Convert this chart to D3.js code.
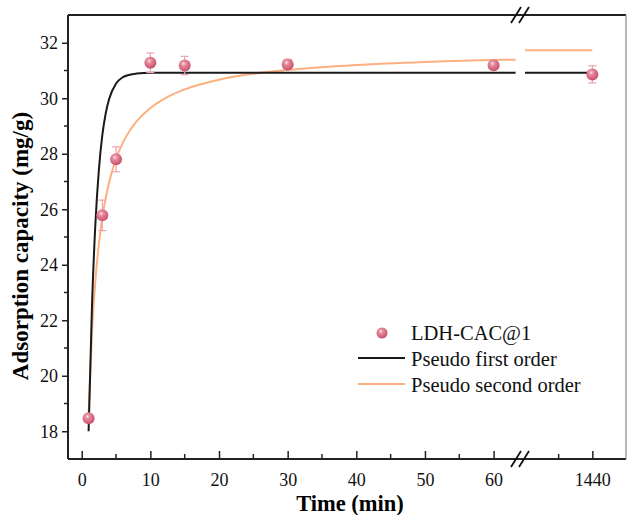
<!DOCTYPE html>
<html>
<head>
<meta charset="utf-8">
<script src="https://cdn.jsdelivr.net/npm/d3@7"></script>
<style>
  body { margin: 0; background: #fff; }
  svg text { font-family: "Liberation Serif", "Times New Roman", Times, "DejaVu Serif", serif; }
</style>
</head>
<body>
<div class="chart"></div>
<script>
// measured points
const times = [1, 3, 5, 10, 15, 30, 60, 1440];
const capacity = [18.47, 25.78, 27.8, 31.28, 31.18, 31.22, 31.19, 30.86];
const errors = [0.13, 0.55, 0.45, 0.35, 0.33, 0.18, 0.1, 0.31];

// fitted curves (left part, then right of the break)
const pfoTime = [1, 1.5, 2, 2.5, 3, 3.5, 4, 5, 6, 7, 8, 10, 20, 40, 63.2];
const pfoValue = [18.0, 22.57, 25.52, 27.43, 28.67, 29.46, 29.98, 30.53, 30.76, 30.85, 30.89, 30.92, 30.92, 30.92, 30.92];
const pfoTimeLate = [1400, 1440];
const pfoValueLate = [30.92, 30.92];

const psoTime = [1, 1.5, 2, 2.5, 3, 4, 5, 6, 7, 8, 10, 12, 15, 20, 25, 30, 40, 50, 60, 63.2];
const psoValue = [18.6, 21.58, 23.46, 24.75, 25.7, 26.98, 27.82, 28.4, 28.84, 29.17, 29.65, 29.98, 30.32, 30.67, 30.88, 31.02, 31.2, 31.31, 31.38, 31.39];
const psoTimeLate = [1400, 1440];
const psoValueLate = [31.73, 31.73];

const xTicks = [0, 10, 20, 30, 40, 50, 60];
const xMinor = [5, 15, 25, 35, 45, 55];
const xTicksLate = [1440];
const xMinorLate = [1420];
const yTicks = [18, 20, 22, 24, 26, 28, 30, 32];
const yMinor = [19, 21, 23, 25, 27, 29, 31];

const legendLabels = ["LDH-CAC@1", "Pseudo first order", "Pseudo second order"];

function drawChart() {
  const width = 627;
  const height = 515;
  const left = 68, right = 626, top = 15, bottom = 459;
  const breakX = 520;
  const serif = '"Liberation Serif", "Times New Roman", Times, "DejaVu Serif", serif';

  const orange = "#fdb07f";

  const svg = d3.select(".chart").append("svg")
    .attr("width", width)
    .attr("height", height);

  const defs = svg.append("defs");
  const grad = defs.append("radialGradient")
    .attr("id", "ball")
    .attr("cx", "40%").attr("cy", "35%").attr("r", "65%");
  grad.append("stop").attr("offset", "0%").attr("stop-color", "#fbe3e8");
  grad.append("stop").attr("offset", "30%").attr("stop-color", "#e58a9c");
  grad.append("stop").attr("offset", "100%").attr("stop-color", "#c9506a");

  const x1 = d3.scaleLinear().domain([-2, 63.7]).range([left, 519]);
  const x2 = d3.scaleLinear().domain([1400, 1460]).range([525, right]);
  const xPos = t => t > 100 ? x2(t) : x1(t);

  const y = d3.scaleLinear().domain([17, 33]).range([bottom, top]);

  // y axis, ticks pointing out
  const yAxis = d3.axisLeft(y).tickValues(yTicks).tickSize(6).tickPadding(4).tickFormat(d3.format("d"));
  const gy = svg.append("g").attr("transform", `translate(${left},0)`).call(yAxis)
    .attr("font-family", serif).attr("font-size", 18);
  gy.select(".domain").remove();
  gy.selectAll(".tick line").attr("stroke", "#222").attr("stroke-width", 1.5);
  gy.selectAll("text").attr("fill", "#111");
  svg.append("g").selectAll("line").data(yMinor).join("line")
    .attr("x1", left - 4).attr("x2", left)
    .attr("y1", d => y(d)).attr("y2", d => y(d))
    .attr("stroke", "#222").attr("stroke-width", 1.5);

  // x axis, ticks pointing in
  const xAxis1 = d3.axisBottom(x1).tickValues(xTicks).tickSize(-8).tickPadding(14).tickFormat(d3.format("d"));
  const xAxis2 = d3.axisBottom(x2).tickValues(xTicksLate).tickSize(-8).tickPadding(14).tickFormat(d3.format("d"));
  [xAxis1, xAxis2].forEach(ax => {
    const g = svg.append("g").attr("transform", `translate(0,${bottom})`).call(ax)
      .attr("font-family", serif).attr("font-size", 18);
    g.select(".domain").remove();
    g.selectAll(".tick line").attr("stroke", "#222").attr("stroke-width", 1.5);
    g.selectAll("text").attr("fill", "#111");
  });
  svg.append("g").selectAll("line").data(xMinor.map(x1).concat(xMinorLate.map(x2))).join("line")
    .attr("x1", d => d).attr("x2", d => d)
    .attr("y1", bottom).attr("y2", bottom - 5)
    .attr("stroke", "#222").attr("stroke-width", 1.5);

  // frame
  svg.append("line").attr("x1", left).attr("x2", left).attr("y1", top).attr("y2", bottom)
    .attr("stroke", "#222").attr("stroke-width", 2);
  svg.append("line").attr("x1", left).attr("x2", right).attr("y1", bottom).attr("y2", bottom)
    .attr("stroke", "#222").attr("stroke-width", 2);
  svg.append("line").attr("x1", left).attr("x2", right).attr("y1", top).attr("y2", top)
    .attr("stroke", "#222").attr("stroke-width", 2);
  svg.append("line").attr("x1", right).attr("x2", right).attr("y1", top).attr("y2", bottom)
    .attr("stroke", "#888").attr("stroke-width", 1.2);

  // break marks
  [top, bottom].forEach(yy => {
    [-4, 4].forEach(dx => {
      svg.append("line")
        .attr("x1", breakX + dx - 5).attr("y1", yy + 8)
        .attr("x2", breakX + dx + 5).attr("y2", yy - 8)
        .attr("stroke", "#111").attr("stroke-width", 1.8);
    });
  });

  // fitted lines
  const line1 = d3.line().x(d => x1(d[0])).y(d => y(d[1])).curve(d3.curveMonotoneX);
  const line2 = d3.line().x(d => x2(d[0])).y(d => y(d[1]));
  const curves = [
    {t: psoTime, v: psoValue, tl: psoTimeLate, vl: psoValueLate, color: orange},
    {t: pfoTime, v: pfoValue, tl: pfoTimeLate, vl: pfoValueLate, color: "#1a1a1a"}
  ];
  curves.forEach(c => {
    svg.append("path")
      .attr("fill", "none").attr("stroke", c.color).attr("stroke-width", 2)
      .attr("d", line1(d3.zip(c.t, c.v)));
    svg.append("path")
      .attr("fill", "none").attr("stroke", c.color).attr("stroke-width", 2)
      .attr("d", line2(d3.zip(c.tl, c.vl)));
  });

  // error bars
  const pts = times.map((t, i) => ({t: t, q: capacity[i], e: errors[i]}));
  const eb = svg.append("g").attr("stroke", "#eba3b2").attr("stroke-width", 1.2);
  pts.forEach(p => {
    const cx = xPos(p.t);
    eb.append("line").attr("x1", cx).attr("x2", cx).attr("y1", y(p.q + p.e)).attr("y2", y(p.q - p.e));
    eb.append("line").attr("x1", cx - 4).attr("x2", cx + 4).attr("y1", y(p.q + p.e)).attr("y2", y(p.q + p.e));
    eb.append("line").attr("x1", cx - 4).attr("x2", cx + 4).attr("y1", y(p.q - p.e)).attr("y2", y(p.q - p.e));
  });

  svg.append("g").selectAll("circle").data(pts).join("circle")
    .attr("cx", d => xPos(d.t))
    .attr("cy", d => y(d.q))
    .attr("r", 6)
    .attr("fill", "url(#ball)");

  // legend
  const lg = svg.append("g");
  lg.append("circle").attr("cx", 382).attr("cy", 333).attr("r", 5.5).attr("fill", "url(#ball)");
  lg.append("line").attr("x1", 358).attr("x2", 405).attr("y1", 358).attr("y2", 358)
    .attr("stroke", "#1a1a1a").attr("stroke-width", 2);
  lg.append("line").attr("x1", 358).attr("x2", 405).attr("y1", 384).attr("y2", 384)
    .attr("stroke", orange).attr("stroke-width", 2);
  lg.selectAll("text").data(legendLabels).join("text")
    .attr("x", 411)
    .attr("y", (d, i) => 340 + i * 26)
    .attr("font-family", serif)
    .attr("font-size", 20.5)
    .attr("fill", "#111")
    .text(d => d);

  // axis titles
  svg.append("text")
    .attr("x", 350).attr("y", 511)
    .attr("text-anchor", "middle")
    .attr("font-family", serif)
    .attr("font-size", 22.5).attr("font-weight", "bold")
    .text("Time (min)");
  svg.append("text")
    .attr("transform", "translate(28,246) rotate(-90)")
    .attr("text-anchor", "middle")
    .attr("font-family", serif)
    .attr("font-size", 23).attr("font-weight", "bold")
    .text("Adsorption capacity (mg/g)");
}

drawChart();
</script>
</body>
</html>
